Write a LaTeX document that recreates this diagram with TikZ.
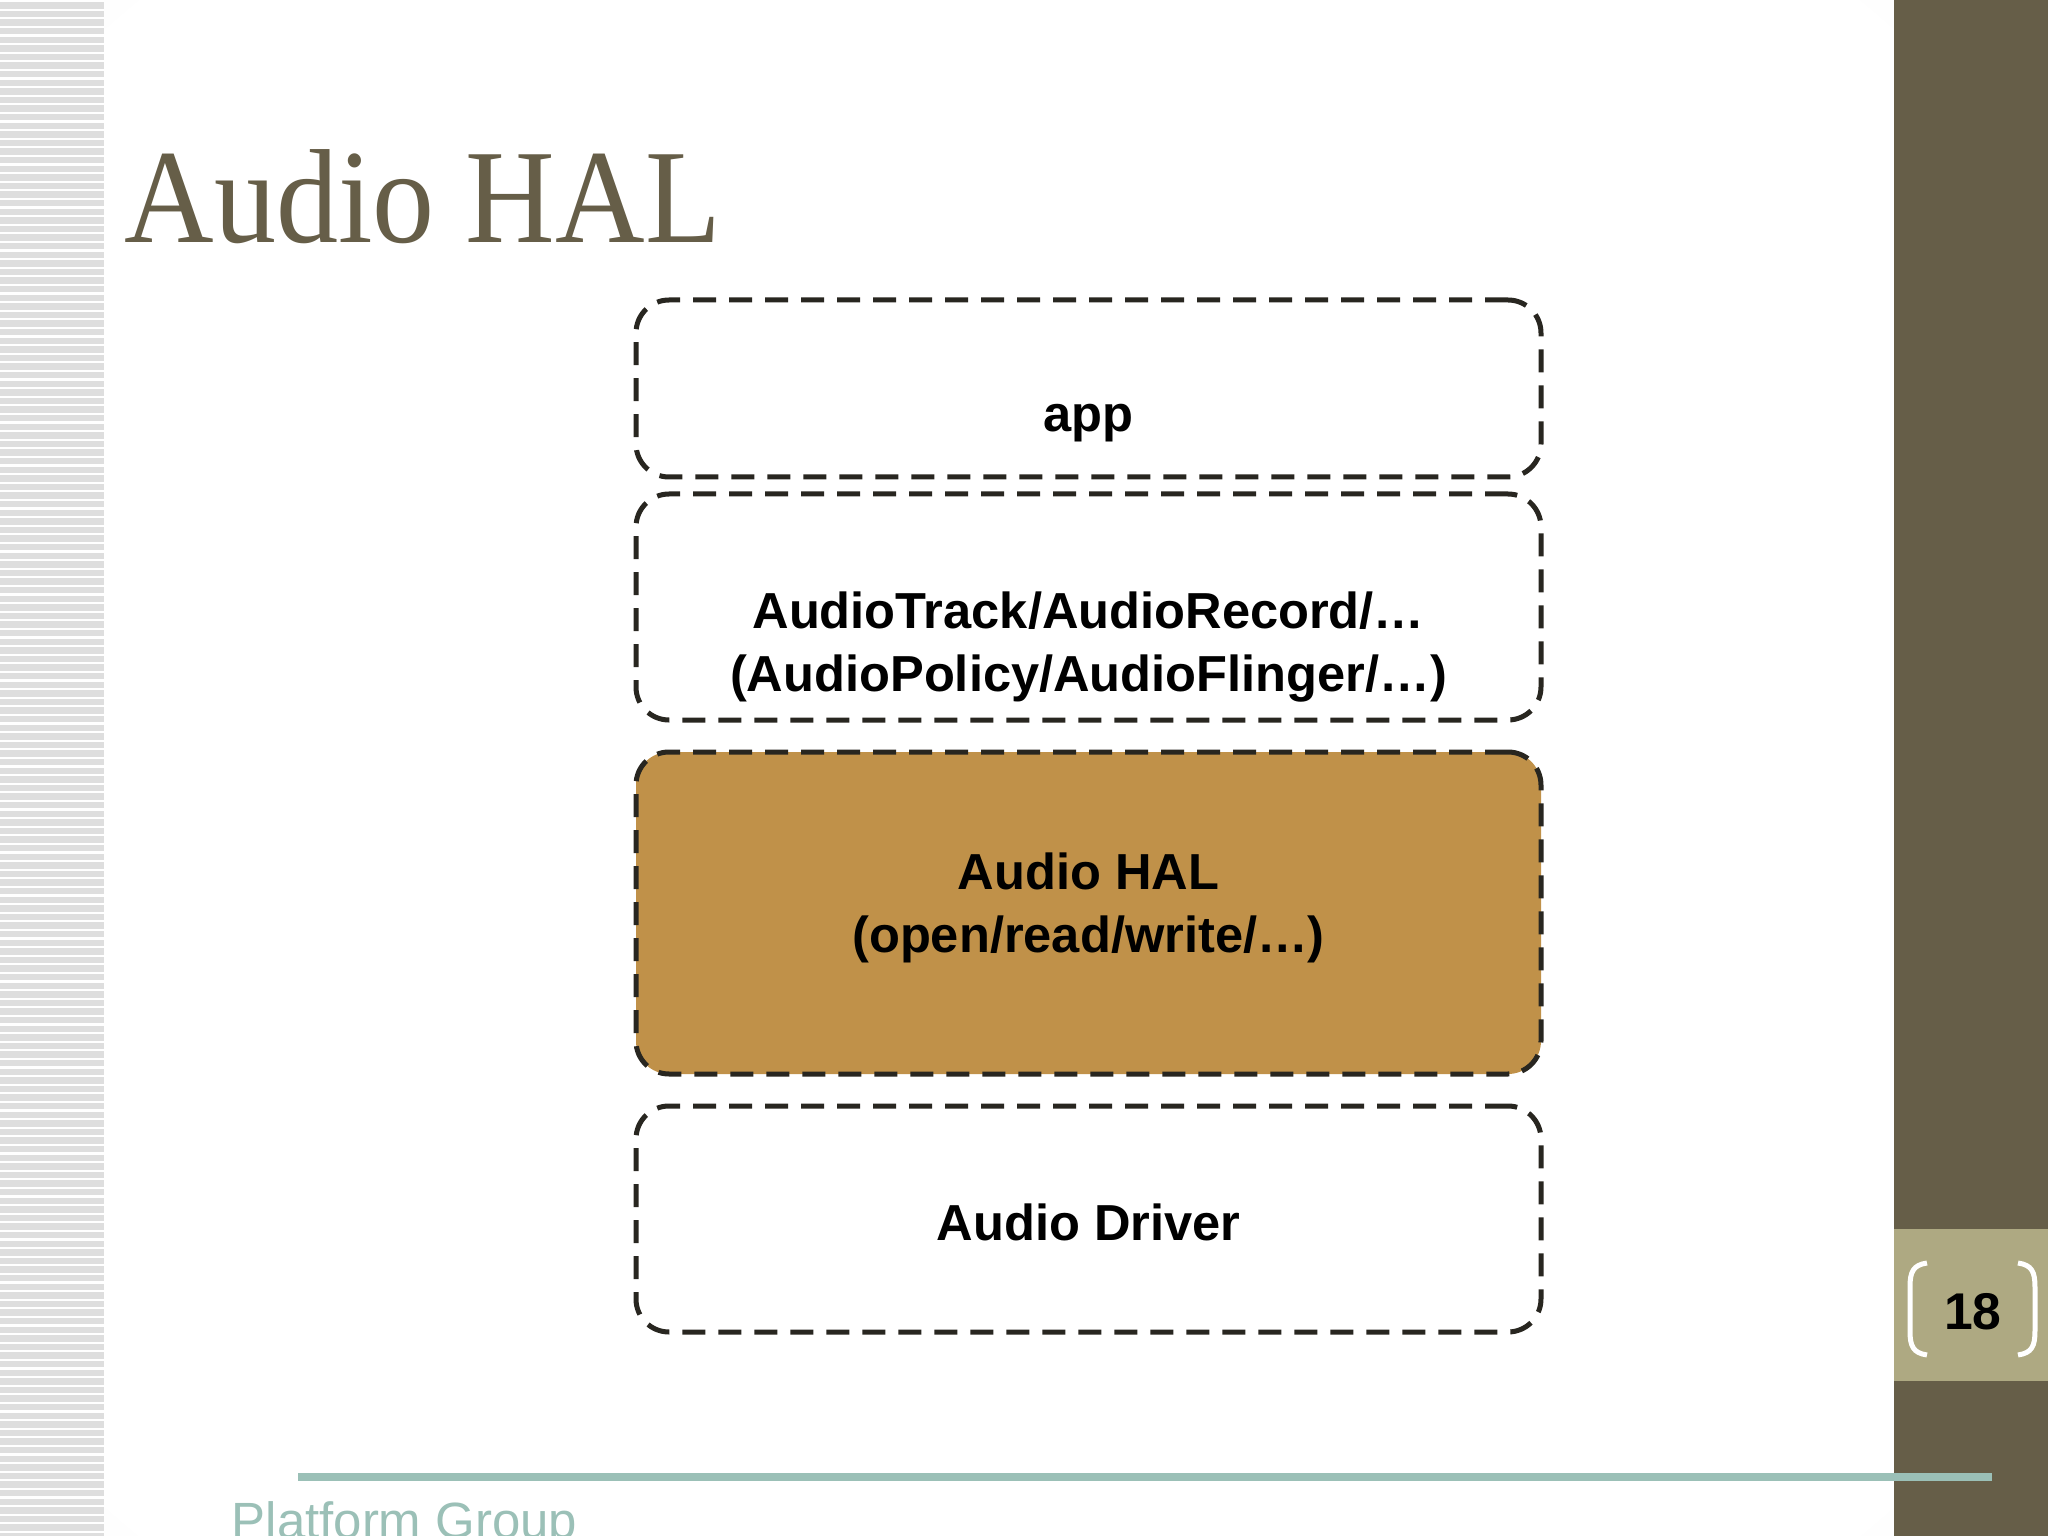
\documentclass[tikz,border=0pt]{standalone}
\usepackage{fontspec}
\setmainfont{Liberation Serif}
\setsansfont{Liberation Sans}
\usetikzlibrary{positioning}
\definecolor{olivbraun}{RGB}{102,94,72}
\definecolor{khaki}{RGB}{174,169,130}
\definecolor{ocker}{RGB}{192,145,73}
\definecolor{tuerkisgrau}{RGB}{155,192,183}
\definecolor{rahmen}{RGB}{40,38,32}
\pgfdeclareradialshading{folie}{\pgfpoint{0bp}{0bp}}{color(0bp)=(white); color(34bp)=(white); color(72bp)=(black!11)}

\begin{document}
\begin{tikzpicture}[x=1cm, y=-1cm, % y nach unten, Einheit = 100 px
  schicht/.style={draw=rahmen, line width=0.05cm, dash pattern=on 0.23cm off 0.13cm, rounded corners=0.33cm, minimum width=9.05cm, inner sep=0pt},
  beschr/.style={font=\sffamily\bfseries\fontsize{14.4}{17.9}\selectfont, align=center, inner sep=0pt}]
\useasboundingbox (0,0) rectangle (20.48,15.36);
\clip (0,0) rectangle (20.48,15.36);
% Hintergrund
\shade[shading=folie] (1.04,0) rectangle (18.94,15.36);
\fill[black!13] (0,0) rectangle (1.04,15.36); % Streifen links
\foreach \i in {0,...,178} {
  \fill[white] (0,\i*0.086) rectangle (1.04,\i*0.086+0.022);
}
\fill[olivbraun] (18.94,0) rectangle (20.48,15.36); % Balken rechts
\fill[khaki] (18.94,12.29) rectangle (20.48,13.81); % Seitenfeld
% Klammern um die Seitenzahl
\draw[white, line width=0.05cm] (19.27,12.63) .. controls (19.13,12.65) and (19.10,12.72) .. (19.10,12.87) -- (19.10,13.31) .. controls (19.10,13.46) and (19.13,13.53) .. (19.27,13.55);
\draw[white, line width=0.05cm] (20.18,12.63) .. controls (20.32,12.65) and (20.35,12.72) .. (20.35,12.87) -- (20.35,13.31) .. controls (20.35,13.46) and (20.32,13.53) .. (20.18,13.55);
\node[font=\sffamily\bfseries\fontsize{14.7}{16}\selectfont, inner sep=0pt] (seite) at (19.73,13.12) {18};
\fill[tuerkisgrau] (2.98,14.73) rectangle (19.92,14.81); % Linie unten
% Titel
\node[anchor=base west, inner sep=0pt, text=olivbraun, font=\fontsize{35.3}{40}\selectfont] (titel) at (1.24,2.43) {\scalebox{1}[1.08]{Audio HAL}};
% Schichten
\node[schicht, minimum height=1.77cm] (app) at (10.885,3.885) {};
\node[schicht, minimum height=2.26cm] (framework) at (10.885,6.07) {};
\node[schicht, fill=ocker, minimum height=3.22cm] (hal) at (10.885,9.13) {};
\node[schicht, minimum height=2.26cm] (treiber) at (10.885,12.19) {};
\node[beschr, anchor=base] (apptext) at (10.885,4.32) {app};
\node[beschr, anchor=base] (frameworktext) at (10.885,6.91) {AudioTrack/AudioRecord/…\\(AudioPolicy/AudioFlinger/…)}; % base = letzte Zeile
\node[beschr, anchor=base] (haltext) at (10.885,9.52) {Audio HAL\\(open/read/write/…)};
\node[beschr, anchor=base] (treibertext) at (10.885,12.40) {Audio Driver};
% Fusszeile
\node[anchor=base west, inner sep=0pt, text=tuerkisgrau, font=\sffamily\fontsize{14.5}{16}\selectfont] (fusszeile) at (2.31,15.38) {Platform Group};
\end{tikzpicture}
\end{document}
